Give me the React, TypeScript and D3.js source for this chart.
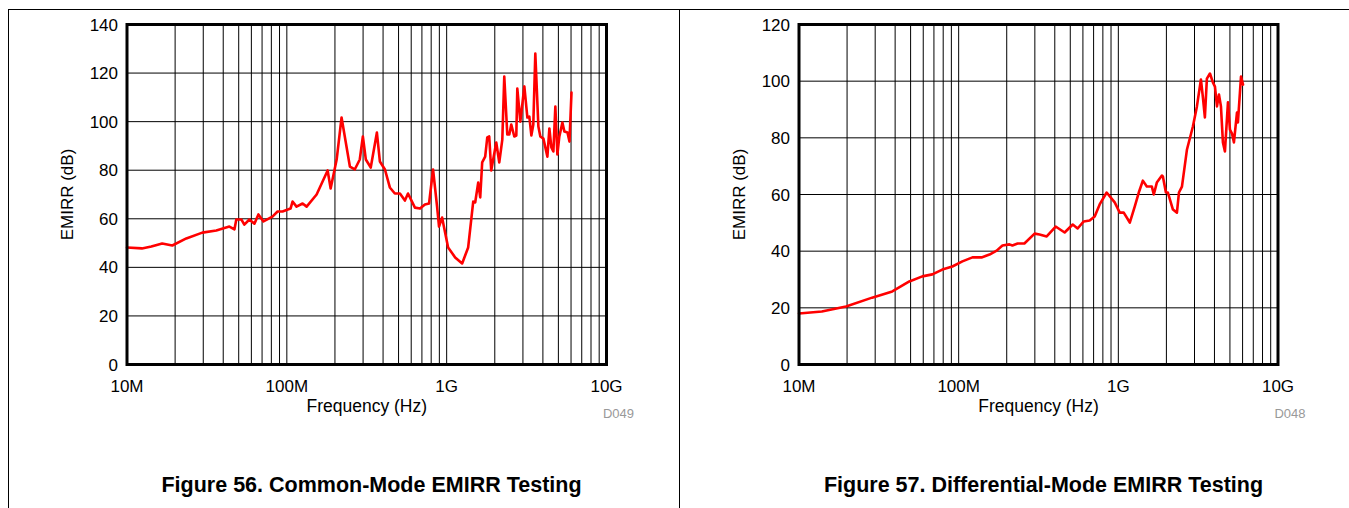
import React from "react";
import * as d3 from "d3";

// Common-mode EMIRR (Figure 56): frequency in MHz, EMIRR in dB
const cmFreqMHz = [
  10, 12.4, 14.2, 16.6, 19.2, 23.5, 29.6, 36.2, 43.7, 47, 48.3, 52, 54.2, 58.3, 62.7, 66.4, 71.4, 81.3, 87.5, 94,
  105.5, 108.6, 115, 125.5, 133, 153.6, 180, 188, 205, 220, 248, 266, 286, 299, 312, 335, 366, 382, 411, 441,
  474, 510, 548, 573, 633, 681, 731, 776, 822, 871, 896, 936, 1021, 1130, 1250, 1363, 1466, 1508, 1575, 1622,
  1668, 1742, 1795, 1846, 1900, 2043, 2134, 2229, 2293, 2395, 2466, 2536, 2650, 2727, 2767, 2890, 3062, 3199, 3290, 3387,
  3484, 3586, 3748, 3855, 4029, 4268, 4392, 4519, 4652, 4786, 4928, 5070, 5297, 5453, 5698, 5865, 6039,
];
const cmEmirr = [
  48.2, 47.8, 48.6, 49.8, 49, 51.9, 54.3, 55.2, 56.8, 55.6, 59.7, 59.7, 57.6, 59.7, 58, 61.8, 58.9, 60.9, 63, 63,
  64.2, 67.1, 65, 66.3, 65, 70, 79.9, 72.5, 84.4, 101.7, 81.5, 80.3, 84.4, 93.9, 84.4, 81.1, 95.5, 83.6, 80.3, 72.9,
  70.4, 70.4, 67.5, 70.4, 64.6, 64.2, 65.9, 66.3, 80.3, 65, 56.8, 60.5, 48.2, 44.1, 41.6, 48.2, 67.1, 66.7, 74.9, 68.8,
  83.2, 85.6, 93.5, 93.9, 79.9, 91.4, 83.2, 92.6, 118.6, 94.7, 94.7, 98.8, 93.9, 94.3, 113.6, 100, 114.5, 101.7, 102.1, 94.3,
  98.8, 128, 98, 93.9, 93, 85.6, 97.2, 89.4, 87.7, 106.2, 86.5, 93.9, 99.6, 95.9, 95.5, 91.8, 112,
];

// Differential-mode EMIRR (Figure 57)
const dmFreqMHz = [
  10, 13.9, 19.7, 28.7, 38.4, 49.1, 59.2, 68.4, 79, 91.3, 105.5, 122, 139, 156, 173, 188, 208, 217, 234, 258,
  299, 321, 356, 405, 461, 518, 556, 607, 661, 711, 764, 845, 949, 1021, 1081, 1180, 1268, 1343, 1424, 1508,
  1622, 1668, 1742, 1875, 1900, 1986, 2043, 2198, 2328, 2397, 2503, 2691, 2931, 3106, 3290, 3387, 3484, 3586, 3748, 3916,
  4029, 4148, 4268, 4392, 4519, 4652, 4860, 5000, 5150, 5297, 5534, 5610, 5865, 6039,
];
const dmEmirr = [
  18, 18.7, 20.5, 23.6, 25.8, 29.3, 31.1, 31.8, 33.5, 34.6, 36.4, 37.8, 37.8, 38.8, 40.2, 42, 42.4, 42, 42.7, 42.7,
  46.2, 45.9, 45.2, 48.7, 46.6, 49.4, 48, 50.5, 50.8, 52.2, 56.5, 60.7, 57.2, 53.6, 53.6, 50.1, 55.8, 60.7, 64.9, 62.8,
  62.8, 60, 64.2, 66.7, 66.4, 60.7, 60.7, 54.7, 53.6, 60.7, 62.8, 75.9, 84, 91.1, 100.6, 94.2, 87.2, 100.9, 102.7, 99.5,
  98.1, 91.1, 95.3, 91.1, 78.4, 75.2, 92.5, 82.9, 81.5, 78.4, 88.9, 85.4, 101.6, 98.8,
];

const xTickValues = [1e7, 1e8, 1e9, 1e10];
const xTickLabels = ["10M", "100M", "1G", "10G"];
const cmYTicks = [0, 20, 40, 60, 80, 100, 120, 140];
const dmYTicks = [0, 20, 40, 60, 80, 100, 120];

const FONT = "'Liberation Sans', Arial, Helvetica, sans-serif";

type ChartProps = {
  left: number;
  right: number;
  top: number;
  bottom: number;
  yMax: number;
  yTicks: number[];
  freqMHz: number[];
  values: number[];
  code: string;
  title: string;
  titleX: number;
};

function Chart(p: ChartProps) {
  const x = d3.scaleLog().domain([1e7, 1e10]).range([p.left, p.right]);
  const y = d3.scaleLinear().domain([0, p.yMax]).range([p.bottom, p.top]);
  const gridX: number[] = [];
  [1e7, 1e8, 1e9].forEach((dec) => {
    for (let k = 1; k <= 9; k++) {
      const v = k * dec;
      if (v > 1e7) gridX.push(v);
    }
  });
  const pts: [number, number][] = p.freqMHz.map((f, i) => [f * 1e6, p.values[i]]);
  const line = d3
    .line<[number, number]>()
    .x((d) => x(d[0]))
    .y((d) => y(d[1]));
  const cx = (p.left + p.right) / 2;
  const cy = (p.top + p.bottom) / 2;
  return (
    <g fontFamily={FONT}>
      {gridX.map((v) => (
        <line key={"gx" + v} x1={x(v)} x2={x(v)} y1={p.top} y2={p.bottom} stroke="#000" strokeWidth={1} />
      ))}
      {p.yTicks.map((t) => (
        <line key={"gy" + t} x1={p.left} x2={p.right} y1={y(t)} y2={y(t)} stroke="#000" strokeWidth={1} />
      ))}
      <path d={line(pts) || ""} fill="none" stroke="#ff0000" strokeWidth={2.6} strokeLinejoin="round" strokeLinecap="round" />
      <rect x={p.left} y={p.top} width={p.right - p.left} height={p.bottom - p.top} fill="none" stroke="#000" strokeWidth={3} />
      {p.yTicks.map((t) => (
        <text key={"ty" + t} x={p.left - 9} y={y(t)} dy="0.36em" textAnchor="end" fontSize={17} fill="#000">
          {t}
        </text>
      ))}
      {xTickValues.map((v, i) => (
        <text key={"tx" + v} x={x(v)} y={p.bottom + 27} textAnchor="middle" fontSize={17} fill="#000">
          {xTickLabels[i]}
        </text>
      ))}
      <text x={cx} y={p.bottom + 47} textAnchor="middle" fontSize={17.5} fill="#000">
        Frequency (Hz)
      </text>
      <text transform={`translate(${p.left - 54},${cy}) rotate(-90)`} textAnchor="middle" fontSize={17} fill="#000">
        EMIRR (dB)
      </text>
      <text x={p.right + 12} y={p.bottom + 53} textAnchor="middle" fontSize={13} fill="#999">
        {p.code}
      </text>
      <text x={p.titleX} y={492} textAnchor="middle" fontSize={21.5} fontWeight="bold" fill="#000">
        {p.title}
      </text>
    </g>
  );
}

export default function App() {
  return (
    <svg
      width={1349}
      height={508}
      style={{ position: "absolute", left: 0, top: 0, background: "#fff" }}
    >
      <rect x={0} y={0} width={1349} height={508} fill="#fff" />
      <line x1={8} x2={1349} y1={9.5} y2={9.5} stroke="#000" strokeWidth={1} />
      <line x1={8.5} x2={8.5} y1={9} y2={508} stroke="#000" strokeWidth={1} />
      <line x1={679.5} x2={679.5} y1={9} y2={508} stroke="#000" strokeWidth={1} />
      <Chart
        left={127}
        right={606.5}
        top={24.5}
        bottom={364.5}
        yMax={140}
        yTicks={cmYTicks}
        freqMHz={cmFreqMHz}
        values={cmEmirr}
        code="D049"
        title="Figure 56. Common-Mode EMIRR Testing"
        titleX={371.5}
      />
      <Chart
        left={799}
        right={1278}
        top={24.5}
        bottom={364.5}
        yMax={120}
        yTicks={dmYTicks}
        freqMHz={dmFreqMHz}
        values={dmEmirr}
        code="D048"
        title="Figure 57. Differential-Mode EMIRR Testing"
        titleX={1043.5}
      />
    </svg>
  );
}
